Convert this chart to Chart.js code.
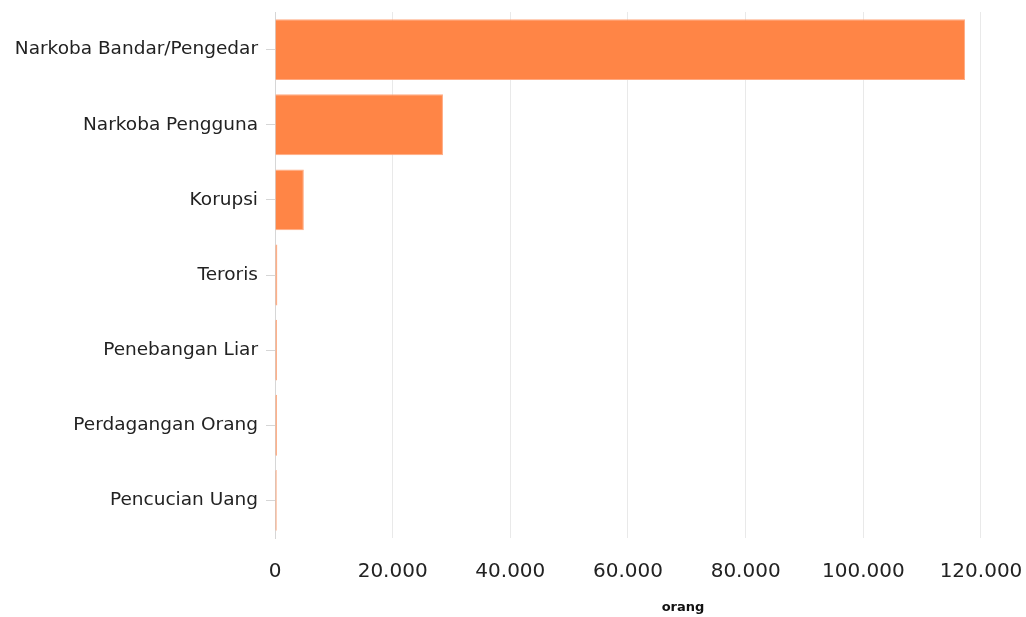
<!DOCTYPE html>
<html>
<head>
<meta charset="utf-8">
<script src="https://cdn.jsdelivr.net/npm/chart.js@4"></script>
<style>
    body { margin: 0; overflow: hidden; background: #fff; }
    .wrap { width: 1100px; height: 617px; }
</style>
</head>
<body>
<div class="wrap"><canvas id="kasusChart"></canvas></div>
<script>
// Data
const categories = ['Narkoba Bandar/Pengedar', 'Narkoba Pengguna', 'Korupsi', 'Teroris', 'Penebangan Liar', 'Perdagangan Orang', 'Pencucian Uang'];
const jumlah = [117300, 28550, 4900, 400, 350, 350, 300];
const xTicks = [0, 20000, 40000, 60000, 80000, 100000, 120000];

const fmt = v => v.toString().replace(/\B(?=(\d{3})+(?!\d))/g, '.');

const ctx = document.getElementById('kasusChart').getContext('2d');

new Chart(ctx, {
    type: 'bar',
    data: {
        labels: categories,
        datasets: [{
            label: 'orang',
            data: jumlah,
            backgroundColor: 'rgb(255,133,70)',
            borderColor: 'rgb(255,170,130)',
            borderWidth: 1,
            categoryPercentage: 1,
            barPercentage: 0.81
        }]
    },
    options: {
        indexAxis: 'y',
        responsive: true,
        maintainAspectRatio: false,
        animation: false,
        layout: { padding: { top: 12, right: 9, left: 0, bottom: 0 } },
        plugins: {
            legend: { display: false },
            tooltip: { enabled: false }
        },
        scales: {
            x: {
                min: 0,
                max: 138700,
                afterBuildTicks: scale => {
                    scale.ticks = xTicks.map(v => ({ value: v }));
                },
                afterFit: scale => { scale.height = 79; },
                grid: { color: '#e9e9e9', drawTicks: false },
                border: { display: false },
                ticks: {
                    padding: 22,
                    maxRotation: 0,
                    minRotation: 0,
                    color: '#222',
                    font: { family: 'DejaVu Sans', size: 20 },
                    callback: v => fmt(v)
                },
                title: {
                    display: true,
                    text: 'orang',
                    color: '#111',
                    font: { family: 'DejaVu Sans', size: 13, weight: 'bold' },
                    padding: { top: 14, bottom: 2 }
                }
            },
            y: {
                afterFit: scale => {
                    scale.width = 275;
                    scale.paddingTop = 0;
                    scale.paddingBottom = 0;
                },
                grid: { drawOnChartArea: false, offset: false, tickLength: 9, color: '#d6d6d6' },
                border: { color: '#d6d6d6' },
                ticks: {
                    padding: 8,
                    color: '#222',
                    font: { family: 'DejaVu Sans', size: 18.5 }
                }
            }
        }
    }
});
</script>
</body>
</html>
